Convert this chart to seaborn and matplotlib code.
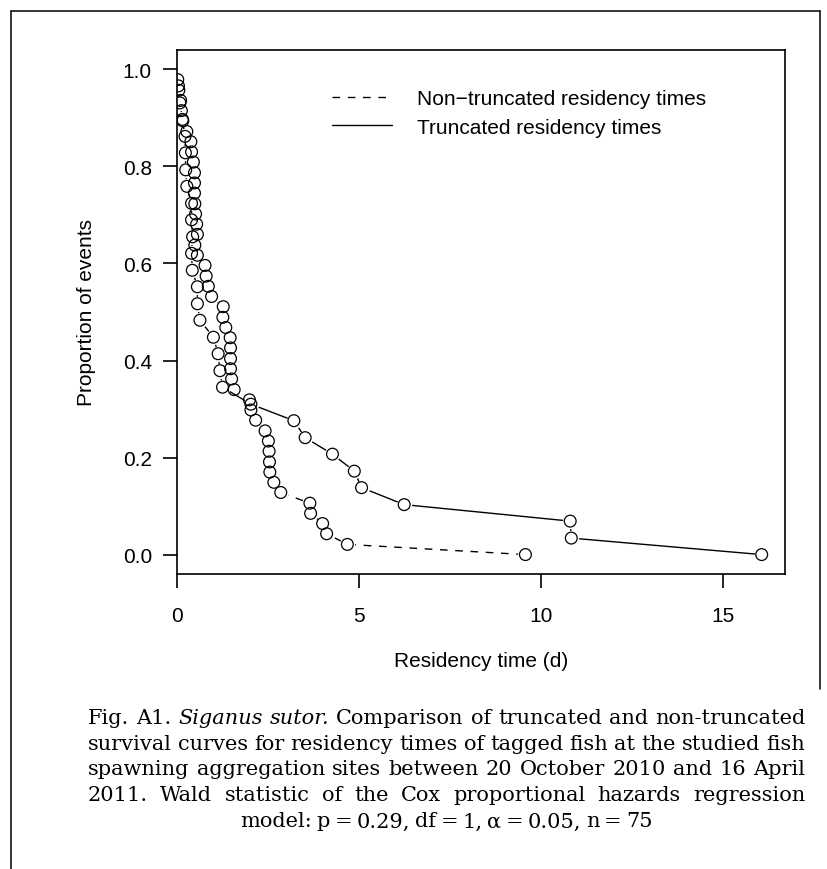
import matplotlib
matplotlib.use("Agg")
import matplotlib.pyplot as plt
import seaborn as sns
from matplotlib.lines import Line2D

# survival curve points (time in days, proportion of events)
nt_time = [0.02, 0.05, 0.10, 0.12, 0.16, 0.27, 0.38, 0.40, 0.45, 0.48, 0.48, 0.48,
           0.49, 0.51, 0.54, 0.56, 0.49, 0.56, 0.77, 0.80, 0.86, 0.95, 1.27, 1.26,
           1.34, 1.46, 1.47, 1.47, 1.47, 1.50, 1.57, 1.99, 2.03, 2.16, 2.42, 2.51,
           2.53, 2.54, 2.55, 2.66, 2.85, 3.65, 3.67, 4.00, 4.11, 4.68, 9.57]
nt_prop = [0.979, 0.957, 0.936, 0.915, 0.894, 0.872, 0.851, 0.830, 0.809, 0.787,
           0.766, 0.745, 0.723, 0.702, 0.681, 0.660, 0.638, 0.617, 0.596, 0.574,
           0.553, 0.532, 0.511, 0.489, 0.468, 0.447, 0.426, 0.404, 0.383, 0.362,
           0.340, 0.319, 0.298, 0.277, 0.255, 0.234, 0.213, 0.191, 0.170, 0.149,
           0.128, 0.106, 0.085, 0.064, 0.043, 0.021, 0.000]

tr_time = [0.04, 0.08, 0.15, 0.22, 0.23, 0.24, 0.27, 0.40, 0.40, 0.43, 0.40, 0.42,
           0.56, 0.56, 0.63, 1.00, 1.13, 1.18, 1.25, 2.03, 3.21, 3.52, 4.27, 4.87,
           5.07, 6.24, 10.80, 10.83, 16.06]
tr_prop = [0.966, 0.931, 0.897, 0.862, 0.828, 0.793, 0.759, 0.724, 0.690, 0.655,
           0.621, 0.586, 0.552, 0.517, 0.483, 0.448, 0.414, 0.379, 0.345, 0.310,
           0.276, 0.241, 0.207, 0.172, 0.138, 0.103, 0.069, 0.034, 0.000]

series_labels = ["Non\u2212truncated residency times", "Truncated residency times"]
x_ticks = [0, 5, 10, 15]
y_ticks = [0.0, 0.2, 0.4, 0.6, 0.8, 1.0]
y_tick_labels = ["0.0", "0.2", "0.4", "0.6", "0.8", "1.0"]

caption_lines = [
    "Fig. A1. Siganus sutor. Comparison of truncated and non-truncated",
    "survival curves for residency times of tagged fish at the studied fish",
    "spawning aggregation sites between 20 October 2010 and 16 April",
    "2011. Wald statistic of the Cox proportional hazards regression",
    "model: p = 0.29, df = 1, \u03b1 = 0.05, n = 75",
]
italic_words = {"Siganus", "sutor."}

sns.set_style("ticks")
plt.rcParams['font.family'] = ['Liberation Sans', 'DejaVu Sans']
plt.rcParams['text.color'] = 'black'
plt.rcParams['axes.labelcolor'] = 'black'

W, H = 828, 870
fig = plt.figure(figsize=(W / 100, H / 100), dpi=100)
ax = fig.add_axes([177 / W, 1 - 575 / H, (785 - 177) / W, (575 - 51) / H])

dash = (0, (5.5, 5.5))
# lines with white "holes" at the points, like R type="b"
for t, p, ls in [(nt_time, nt_prop, dash), (tr_time, tr_prop, '-')]:
    sns.lineplot(x=t, y=p, sort=False, estimator=None, ax=ax, color='black',
                 linewidth=1.0, linestyle=ls, marker='o', markersize=11,
                 markerfacecolor='white', markeredgecolor='white',
                 markeredgewidth=0, zorder=2)
for t, p in [(nt_time, nt_prop), (tr_time, tr_prop)]:
    sns.scatterplot(x=t, y=p, ax=ax, marker='o', s=72, facecolor='none',
                    edgecolor='black', linewidth=0.9, zorder=3)

ax.set_xlim(0, 16.7)
ax.set_ylim(-0.04, 1.04)
ax.set_xticks(x_ticks)
ax.set_yticks(y_ticks)
ax.set_yticklabels(y_tick_labels)
ax.tick_params(axis='both', direction='out', length=10, width=1.2,
               labelsize=15, colors='black')
ax.tick_params(axis='x', pad=13)
ax.tick_params(axis='y', pad=8)
for s in ax.spines.values():
    s.set_linewidth(1.2)
    s.set_color('black')

handles = [Line2D([], [], color='black', lw=1.0, linestyle=dash),
           Line2D([], [], color='black', lw=1.0)]
ax.legend(handles, series_labels, loc='upper left', bbox_to_anchor=(0.255, 0.925),
          frameon=False, fontsize=15, handlelength=2.9, handletextpad=1.2,
          labelspacing=0.45, borderpad=0, borderaxespad=0)

fig.text(481 / W, 1 - 662 / H, "Residency time (d)", ha='center', va='center',
         fontsize=15)
fig.text(87 / W, 1 - 313 / H, "Proportion of events", ha='center', va='center',
         rotation=90, fontsize=15)

# page frame
fig.add_artist(Line2D([11 / W, 11 / W], [0, 1 - 12 / H], transform=fig.transFigure,
                      color='black', lw=1.1))
fig.add_artist(Line2D([11 / W, 820 / W], [1 - 12 / H, 1 - 12 / H],
                      transform=fig.transFigure, color='black', lw=1.1))
fig.add_artist(Line2D([820 / W, 820 / W], [1 - 12 / H, 1 - 690 / H],
                      transform=fig.transFigure, color='black', lw=1.1))

# justified caption
fig.canvas.draw()
renderer = fig.canvas.get_renderer()
left_px, right_px = 88, 805
cap_y = [719, 745, 770, 796, 822]
cap_size = 15
for i, line in enumerate(caption_lines):
    words = line.split(" ")
    texts = []
    for w in words:
        st = 'italic' if w in italic_words else 'normal'
        texts.append(fig.text(0, 1 - cap_y[i] / H, w, fontsize=cap_size,
                              family='DejaVu Serif', style=st, va='center'))
    widths = [t.get_window_extent(renderer).width for t in texts]
    if i < len(caption_lines) - 1:
        gap = (right_px - left_px - sum(widths)) / (len(words) - 1)
        x = left_px
    else:
        gap = cap_size * 0.22 * 100 / 72
        total = sum(widths) + gap * (len(words) - 1)
        x = (left_px + right_px) / 2 - total / 2
    for t, w in zip(texts, widths):
        t.set_x(x / W)
        x += w + gap

fig.savefig("out.png", dpi=100)
